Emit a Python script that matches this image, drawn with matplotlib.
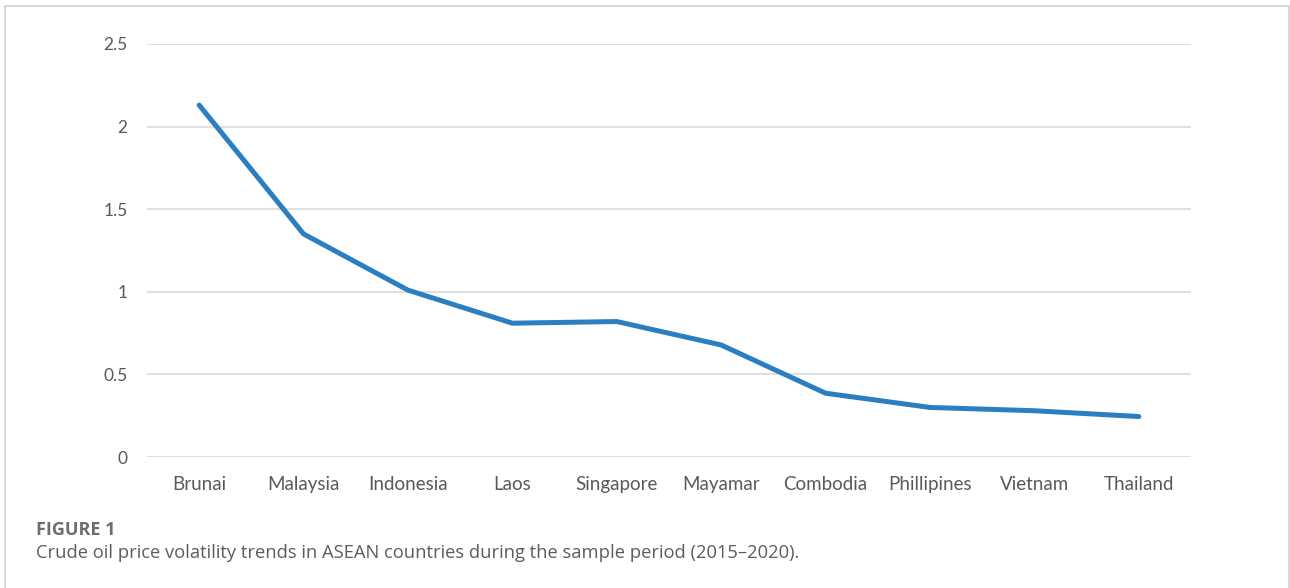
import numpy as np
import matplotlib.pyplot as plt
from matplotlib.patches import Rectangle

# volatility by country
countries = ['Brunai', 'Malaysia', 'Indonesia', 'Laos', 'Singapore',
             'Mayamar', 'Combodia', 'Phillipines', 'Vietnam', 'Thailand']
volatility = [2.13, 1.35, 1.01, 0.81, 0.82, 0.678, 0.386, 0.30, 0.28, 0.245]
y_ticks = [0, 0.5, 1, 1.5, 2, 2.5]
y_tick_labels = ['0', '0.5', '1', '1.5', '2', '2.5']

fig = plt.figure(figsize=(12.9, 5.88), dpi=100)
ax = fig.add_axes([147/1290, 1-457/588, (1191-147)/1290, (457-44)/588])

x = np.arange(len(countries))
ax.plot(x, volatility, color='#2a7fc2', lw=3.6, solid_capstyle='round',
        solid_joinstyle='round')

ax.set_xlim(-0.5, len(countries)-0.5)
ax.set_ylim(0, 2.5)
ax.set_yticks(y_ticks)
ax.set_yticklabels(y_tick_labels)
ax.set_xticks(x)
ax.set_xticklabels(countries)
ax.grid(axis='y', color='#d9d9d9', lw=1.2)
ax.set_axisbelow(True)
for s in ax.spines.values():
    s.set_visible(False)
ax.tick_params(length=0, labelsize=12.5, labelcolor='#595959')
ax.tick_params(axis='x', labelsize=13.5, pad=14)
ax.tick_params(axis='y', pad=14)
for lab in ax.get_xticklabels() + ax.get_yticklabels():
    lab.set_family('Lato')

# frame round the figure (bottom edge runs off the picture)
fig.patches.append(Rectangle((4.5/1290, -0.05), (1289-4.5)/1290, 1.05-5.5/588,
                             transform=fig.transFigure, fill=False,
                             edgecolor='#cfcfcf', lw=1.2))

fig.text(36/1290, 1-530/588, 'FIGURE 1', family='Open Sans', weight='bold',
         fontsize=13, color='#6d6e71', va='center', ha='left')
fig.text(36/1290, 1-553/588,
         'Crude oil price volatility trends in ASEAN countries during the sample period (2015\u20132020).',
         family='Open Sans', fontsize=13.2, color='#5b5c5e', va='center', ha='left')

plt.savefig('out.png', dpi=100)
